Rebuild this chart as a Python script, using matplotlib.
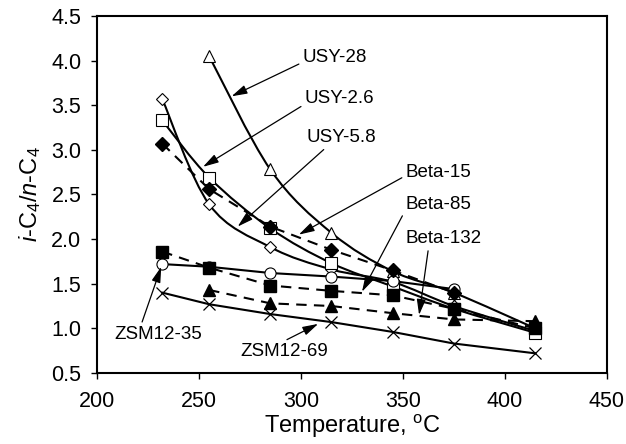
import matplotlib
matplotlib.use("Agg")
import matplotlib.pyplot as plt
from matplotlib.path import Path
from matplotlib.patches import PathPatch
import numpy as np

plt.rcParams["font.family"] = ["Liberation Sans", "DejaVu Sans"]
plt.rcParams["mathtext.fontset"] = "custom"
plt.rcParams["mathtext.rm"] = "Liberation Sans"
plt.rcParams["mathtext.it"] = "Liberation Sans:italic"

# Data (temperature in degC, i-C4/n-C4 ratio)
t_usy28 = [255, 285, 315, 345, 375, 415]
usy28 = [4.05, 2.78, 2.07, 1.64, 1.40, 1.00]

t_usy26 = [232, 255, 285, 315, 345, 375, 415]
usy26 = [3.33, 2.69, 2.12, 1.73, 1.47, 1.22, 0.95]

t_usy58 = [232, 255, 285, 315, 345, 375, 415]
usy58 = [3.57, 2.39, 1.91, 1.66, 1.52, 1.25, 0.97]

t_beta15 = [232, 255, 285, 315, 345, 375]
beta15 = [3.07, 2.56, 2.14, 1.88, 1.65, 1.40]

t_beta85 = [232, 255, 285, 315, 345, 375, 415]
beta85 = [1.86, 1.68, 1.48, 1.42, 1.37, 1.22, 1.00]

t_beta132 = [255, 285, 315, 345, 375, 415]
beta132 = [1.43, 1.28, 1.25, 1.17, 1.10, 1.08]

t_zsm35 = [232, 255, 285, 315, 345, 375]
zsm35 = [1.72, 1.69, 1.62, 1.58, 1.53, 1.44]

t_zsm69 = [232, 255, 285, 315, 345, 375, 415]
zsm69 = [1.40, 1.27, 1.16, 1.07, 0.96, 0.83, 0.72]

# label, text position, arrow head position, arrow tail point on text
labels = ["USY-28", "USY-2.6", "USY-5.8", "Beta-15", "Beta-85", "Beta-132", "ZSM12-35", "ZSM12-69"]
text_xy = [(301, 4.04), (302, 3.57), (303, 3.14), (351.5, 2.75), (351.5, 2.39), (351.5, 2.01), (208.5, 0.93), (270.5, 0.74)]
head_xy = [(266, 3.60), (252, 2.81), (269, 2.14), (299, 2.05), (330, 1.41), (358, 1.15), (231.5, 1.69), (308.5, 1.05)]
tail_rel = [(0, 0.2), (0, 0.2), (0.3, 0), (0, 0.3), (0, 0.2), (0.3, 0), (0.3, 1), (0.45, 1)]


def smooth_line(ax, x, y, **kw):
    # Excel-style smoothed line: Catmull-Rom segments as cubic Bezier
    x = np.asarray(x, float)
    y = np.asarray(y, float)
    pts = np.column_stack([x, y])
    verts = [pts[0]]
    codes = [Path.MOVETO]
    n = len(pts)
    for i in range(n - 1):
        p0 = pts[i - 1] if i > 0 else pts[i]
        p1 = pts[i]
        p2 = pts[i + 1]
        p3 = pts[i + 2] if i + 2 < n else pts[i + 1]
        c1 = p1 + (p2 - p0) / 6.0
        c2 = p2 - (p3 - p1) / 6.0
        verts += [c1, c2, p2]
        codes += [Path.CURVE4] * 3
    ax.add_patch(PathPatch(Path(verts, codes), fill=False, **kw))


fig = plt.figure(figsize=(6.26, 4.44), dpi=100)
ax = fig.add_axes([0.155, 0.16, 0.814, 0.804])

lw = 1.5
dash = (0, (5, 3.5))

smooth_line(ax, t_usy28, usy28, lw=lw, color="black", zorder=2)
ax.plot(t_usy28, usy28, ls="none", marker="^", ms=9, mfc="white", mec="black", mew=0.8, zorder=3)

smooth_line(ax, t_usy58, usy58, lw=lw, color="black", zorder=2)
ax.plot(t_usy58, usy58, ls="none", marker="D", ms=6.5, mfc="white", mec="black", mew=0.8, zorder=3)

smooth_line(ax, t_usy26, usy26, lw=lw, color="black", zorder=2)
ax.plot(t_usy26, usy26, ls="none", marker="s", ms=8.5, mfc="white", mec="black", mew=0.8, zorder=3)

ax.plot(t_zsm35, zsm35, ls="-", lw=lw, color="black", marker="o", ms=8, mfc="white", mec="black", mew=0.8, zorder=3)
ax.plot(t_zsm69, zsm69, ls="-", lw=lw, color="black", marker="x", ms=8, mew=0.9, zorder=3)

ax.plot(t_beta15, beta15, ls=dash, lw=lw, color="black", marker="D", ms=7, mfc="black", zorder=4)
ax.plot(t_beta85, beta85, ls=dash, lw=lw, color="black", marker="s", ms=8.5, mfc="black", zorder=4)
ax.plot(t_beta132, beta132, ls=dash, lw=lw, color="black", marker="^", ms=8.5, mfc="black", zorder=4)

for lab, txy, hxy, rel in zip(labels, text_xy, head_xy, tail_rel):
    ax.annotate(lab, xy=hxy, xytext=txy, textcoords="data", fontsize=13.5,
                ha="left", va="center", zorder=5,
                arrowprops=dict(arrowstyle="-|>,head_length=0.7,head_width=0.2",
                                color="black", lw=0.9, relpos=rel,
                                shrinkA=1, shrinkB=0))

ax.set_xlim(200, 450)
ax.set_ylim(0.5, 4.5)
ax.set_xticks([200, 250, 300, 350, 400, 450])
ax.set_yticks(np.arange(0.5, 4.51, 0.5))
ax.yaxis.set_major_formatter(matplotlib.ticker.FormatStrFormatter("%.1f"))
ax.tick_params(direction="out", length=4.3, width=1, labelsize=15.5)
ax.tick_params(axis="x", pad=9)
ax.tick_params(axis="y", pad=7)
for s in ax.spines.values():
    s.set_linewidth(1.5)

ax.set_xlabel("Temperature, $^{\\mathrm{o}}$C", fontsize=17, labelpad=0)
ax.set_ylabel("$i$-C$_4$/$n$-C$_4$", fontsize=17, labelpad=6)

fig.savefig("out.png", dpi=100)
